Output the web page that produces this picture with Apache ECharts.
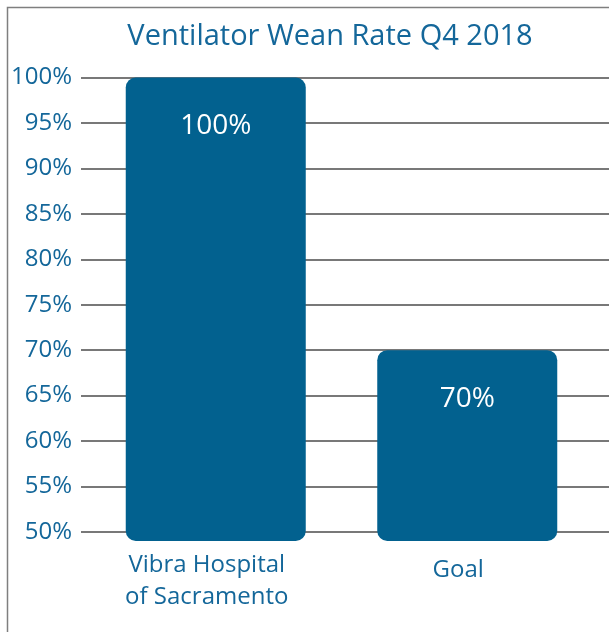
<!DOCTYPE html>
<html>
<head>
<meta charset="utf-8">
<script src="https://cdn.jsdelivr.net/npm/echarts@6/dist/echarts.min.js"></script>
<style>
  html, body { margin: 0; padding: 0; background: #fff; }
  #chart { width: 609px; height: 632px; }
</style>
</head>
<body>
<div id="chart"></div>
<script>
const categories = ['Vibra Hospital\nof Sacramento', 'Goal']
const rates = [100, 70]
const axisMin = 50
const axisMax = 100
const axisStep = 5

const blue = '#02618f'
const textBlue = '#14679a'
const font = 'Open Sans'

const chart = echarts.init(document.getElementById('chart'))

// single-line category labels sit a little lower, like in the original
const xLabels = categories.map(c =>
  c.includes('\n') ? c : { value: c, textStyle: { padding: [5, 18, 0, 0] } })

chart.setOption({
  animation: false,
  title: {
    text: 'Ventilator Wean Rate Q4 2018',
    left: 325,
    textAlign: 'center',
    top: 17,
    textStyle: { color: textBlue, fontSize: 29, fontWeight: 'normal', fontFamily: font },
  },
  graphic: [{
    type: 'rect',
    shape: { x: 7.5, y: 7.5, width: 800, height: 800 },
    style: { fill: 'none', stroke: '#7f7f7f', lineWidth: 1.5 },
    silent: true,
  }],
  grid: [
    // visible scale + gridlines
    { left: 81, right: 0, top: 77.5, bottom: 100 },
    // bars (run a bit below the 50% line, as in the original)
    { left: 90, right: 16, top: 77.5, bottom: 91 },
  ],
  xAxis: [
    { gridIndex: 0, type: 'category', data: categories, show: false },
    {
      gridIndex: 1,
      type: 'category',
      data: xLabels,
      axisLine: { show: false },
      axisTick: { show: false },
      axisLabel: {
        margin: 8,
        color: textBlue,
        fontSize: 24,
        lineHeight: 32,
        fontFamily: font,
        padding: [0, 18, 0, 0],
      },
    },
  ],
  yAxis: [
    {
      gridIndex: 0,
      type: 'value',
      min: axisMin,
      max: axisMax,
      interval: axisStep,
      axisLine: { show: false },
      axisTick: { show: false },
      axisLabel: {
        margin: 9,
        color: textBlue,
        fontSize: 24,
        fontFamily: font,
        formatter: v => v + '%',
      },
      splitLine: { lineStyle: { color: '#787878', width: 2 } },
    },
    {
      gridIndex: 1,
      type: 'value',
      min: 49,
      max: axisMax,
      show: false,
      splitLine: { show: false },
    },
  ],
  series: [{
    type: 'bar',
    xAxisIndex: 1,
    yAxisIndex: 1,
    data: rates,
    barWidth: 180,
    itemStyle: { color: blue, borderRadius: 10 },
    label: {
      show: true,
      position: 'insideTop',
      distance: 35,
      color: '#fff',
      fontSize: 28,
      fontFamily: font,
      formatter: p => p.value + '%',
    },
  }],
})
</script>
</body>
</html>
